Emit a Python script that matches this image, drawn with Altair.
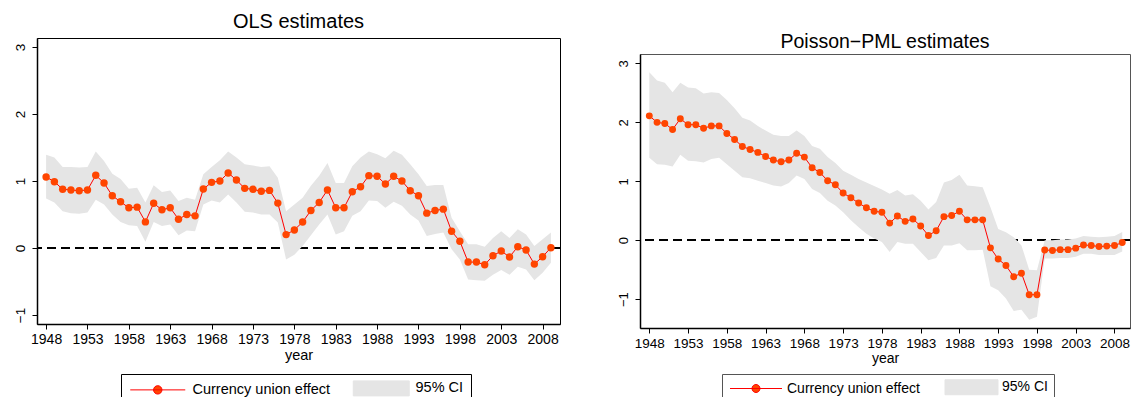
import altair as alt
import pandas as pd

years = list(range(1948, 2010))

ols_est = [1.06, 0.99, 0.876, 0.866, 0.855, 0.866, 1.085, 0.97, 0.78, 0.69,
           0.60, 0.61, 0.39, 0.667, 0.57, 0.60, 0.43, 0.50, 0.48, 0.88,
           0.98, 1.00, 1.12, 1.015, 0.89, 0.876, 0.846, 0.86, 0.67, 0.20,
           0.27, 0.388, 0.56, 0.68, 0.866, 0.60, 0.60, 0.84, 0.913, 1.08,
           1.07, 0.955, 1.07, 1.00, 0.855, 0.78, 0.52, 0.56, 0.58, 0.25,
           0.10, -0.21, -0.21, -0.25, -0.115, -0.045, -0.134, 0.02, -0.03, -0.24,
           -0.13, 0.005]
ols_hi = [1.39, 1.35, 1.21, 1.21, 1.20, 1.21, 1.44, 1.30, 1.11, 1.03,
          0.885, 0.90, 0.68, 0.935, 0.836, 0.86, 0.70, 0.75, 0.72, 1.10,
          1.21, 1.31, 1.44, 1.35, 1.25, 1.23, 1.21, 1.22, 1.05, 0.55,
          0.65, 0.75, 0.93, 1.08, 1.27, 0.97, 0.97, 1.22, 1.35, 1.44,
          1.40, 1.34, 1.45, 1.39, 1.25, 1.10, 0.925, 0.94, 0.94, 0.45,
          0.25, 0.055, 0.055, 0.02, 0.15, 0.25, 0.15, 0.28, 0.20, 0.03,
          0.13, 0.23]
ols_lo = [0.74, 0.68, 0.55, 0.52, 0.51, 0.53, 0.72, 0.65, 0.50, 0.39,
          0.34, 0.33, 0.095, 0.39, 0.33, 0.35, 0.19, 0.26, 0.25, 0.65,
          0.71, 0.68, 0.80, 0.68, 0.54, 0.53, 0.50, 0.50, 0.38, -0.17,
          -0.10, 0.03, 0.19, 0.35, 0.50, 0.20, 0.25, 0.48, 0.55, 0.71,
          0.70, 0.60, 0.69, 0.63, 0.50, 0.41, 0.18, 0.21, 0.23, -0.02,
          -0.17, -0.47, -0.48, -0.49, -0.40, -0.33, -0.40, -0.28, -0.32, -0.48,
          -0.37, -0.22]

ppml_est = [2.11, 2.00, 1.98, 1.88, 2.06, 1.96, 1.96, 1.90, 1.94, 1.94,
            1.81, 1.71, 1.59, 1.54, 1.49, 1.42, 1.36, 1.33, 1.36, 1.475,
            1.41, 1.23, 1.15, 1.01, 0.94, 0.80, 0.72, 0.63, 0.55, 0.49,
            0.475, 0.29, 0.41, 0.32, 0.36, 0.24, 0.08, 0.16, 0.40, 0.42,
            0.49, 0.345, 0.345, 0.345, -0.13, -0.32, -0.43, -0.62, -0.56, -0.925,
            -0.925, -0.165, -0.175, -0.16, -0.16, -0.135, -0.08, -0.09, -0.107, -0.10,
            -0.09, -0.04]
ppml_hi = [2.85, 2.71, 2.67, 2.51, 2.67, 2.59, 2.58, 2.49, 2.51, 2.50,
           2.38, 2.24, 2.08, 2.03, 1.94, 1.86, 1.79, 1.77, 1.77, 1.86,
           1.77, 1.60, 1.55, 1.41, 1.31, 1.18, 1.11, 1.04, 0.98, 0.92,
           0.86, 0.79, 0.85, 0.76, 0.78, 0.67, 0.52, 0.65, 0.98, 1.02,
           1.11, 0.93, 0.915, 0.90, 0.56, 0.19, 0.135, 0.05, -0.09, -0.50,
           -0.51, 0.00, 0.00, 0.01, 0.01, 0.03, 0.07, 0.06, 0.05, 0.06,
           0.07, 0.14]
ppml_lo = [1.40, 1.29, 1.28, 1.25, 1.45, 1.35, 1.34, 1.32, 1.38, 1.40,
           1.29, 1.18, 1.07, 1.05, 1.01, 0.97, 0.93, 0.91, 0.97, 1.10,
           1.04, 0.87, 0.80, 0.67, 0.59, 0.475, 0.34, 0.22, 0.11, 0.03,
           -0.03, -0.20, -0.03, -0.06, -0.06, -0.20, -0.34, -0.30, -0.09, -0.09,
           -0.05, -0.17, -0.17, -0.16, -0.78, -0.85, -0.99, -1.20, -1.18, -1.35,
           -1.30, -0.31, -0.31, -0.30, -0.30, -0.28, -0.23, -0.23, -0.25, -0.25,
           -0.25, -0.19]

x_ticks = list(range(1948, 2009, 5))
y_ticks = [-1, 0, 1, 2, 3]
series = ["Currency union effect", "95% CI"]
titles = ["OLS estimates", "Poisson\u2212PML estimates"]

FONT = "Liberation Sans"
RED = "#FF0000"
ORANGE = "#FF4500"
GRAY = "#E5E5E5"
INDEP = dict(shape="independent", fill="independent", stroke="independent")


def panel(title, est, lo, hi, width, height, xdom, ydom, fs_tick, fs_title,
          fs_legend, frame_color, dot_size, legend_x, legend_y, line_len,
          swatch_len, swatch_h, dot_r, label_offset, col_pad, leg_pad,
          title_offset):
    df = pd.DataFrame({"year": years, "est": est, "lo": lo, "hi": hi,
                       "series": series[0]})
    h = 5.0
    cx = (line_len / 2 - h) / h
    rr = dot_r / h
    xe = (line_len - h) / h
    line_path = (f"M-1,0L{xe:.3f},0M{cx + rr:.3f},0A{rr:.3f},{rr:.3f},0,1,1,"
                 f"{cx - rr:.3f},0A{rr:.3f},{rr:.3f},0,1,1,{cx + rr:.3f},0Z")
    sw = (swatch_len - h) / h
    sh = swatch_h / 2 / h
    rect_path = f"M-1,{-sh:.3f}L{sw:.3f},{-sh:.3f}L{sw:.3f},{sh:.3f}L-1,{sh:.3f}Z"

    def legend():
        return alt.Legend(
            title=None, orient="none", legendX=legend_x, legendY=legend_y,
            direction="horizontal", symbolSize=100, labelOffset=label_offset,
            columnPadding=col_pad, padding=leg_pad, strokeColor=frame_color,
            labelFont=FONT, labelFontSize=fs_legend, labelColor="#000",
            labelLimit=400, symbolOpacity=1, symbolStrokeWidth=1)

    xenc = alt.X("year:Q", scale=alt.Scale(domain=xdom, nice=False, zero=False),
                 axis=alt.Axis(values=x_ticks, format="d", title="year",
                               titleFont=FONT, titleFontSize=fs_tick + 0.5,
                               titleFontWeight="normal", titleColor="#000",
                               titlePadding=2, labelFont=FONT,
                               labelFontSize=fs_tick, labelColor="#000",
                               labelPadding=3, labelFlush=False,
                               labelOverlap=False, tickSize=5,
                               tickColor="#000", domainColor="#000",
                               domainWidth=1.5, grid=False))
    yscale = alt.Scale(domain=ydom, nice=False, zero=False)
    yaxis = alt.Axis(values=y_ticks, title=None, labelAngle=270,
                     labelAlign="center", labelBaseline="alphabetic",
                     labelPadding=8, labelFont=FONT, labelFontSize=fs_tick - 0.5,
                     labelColor="#000", labelOverlap=False, tickSize=5,
                     tickColor="#000", domainColor="#000", domainWidth=1.5,
                     grid=False)
    base = alt.Chart(df)
    zero = base.mark_rule(color="#000", strokeWidth=1, strokeDash=[9, 5]).encode(
        y=alt.datum(0, scale=yscale, axis=yaxis))
    band = base.mark_area(opacity=1, color=GRAY).encode(
        x=xenc, y=alt.Y("lo:Q", scale=yscale, axis=yaxis), y2="hi:Q")
    line = base.mark_line(strokeWidth=1, color=RED).encode(
        x=xenc, y=alt.Y("est:Q", scale=yscale, axis=yaxis))
    pts = base.mark_circle(size=dot_size, color=ORANGE, opacity=1).encode(
        x=xenc, y=alt.Y("est:Q", scale=yscale, axis=yaxis))
    # legend-only layer: no rows are drawn, the legend comes from its scales
    key = base.transform_filter("false").mark_point(
        filled=True, opacity=0, strokeWidth=1).encode(
        x=xenc, y=alt.Y("est:Q", scale=yscale, axis=yaxis),
        shape=alt.Shape("series:N", scale=alt.Scale(domain=series,
                        range=[line_path, rect_path]), legend=legend()),
        fill=alt.Fill("series:N", scale=alt.Scale(domain=series,
                      range=[ORANGE, GRAY]), legend=legend()),
        stroke=alt.Stroke("series:N", scale=alt.Scale(domain=series,
                          range=[RED, GRAY]), legend=legend()))
    return alt.layer(zero, band, line, pts, key).properties(
        width=width, height=height,
        title=alt.TitleParams(title, font=FONT, fontSize=fs_title,
                              fontWeight="normal", color="#000",
                              anchor="middle", frame="group",
                              baseline="alphabetic", offset=title_offset),
        view=alt.ViewBackground(stroke=frame_color, strokeWidth=1))


def spacer(hgt):
    return alt.Chart(pd.DataFrame({"v": [0]})).mark_point(
        opacity=0, size=0).encode(
        x=alt.value(0), y=alt.value(0)).properties(
        width=1, height=hgt, view=alt.ViewBackground(strokeOpacity=0))


left = panel(titles[0], ols_est, ols_lo, ols_hi, 523, 286,
             [1946.9, 2010.1], [-1.134, 3.134], 14, 20, 14.5, "#000", 55,
             84, 336, 55, 56, 15, 4.2, 50, 20, 7, -10)
right = panel(titles[1], ppml_est, ppml_lo, ppml_hi, 490, 274,
              [1946.8, 2010.0], [-1.49, 3.16], 13.5, 19.5, 14, "#555", 48,
              82, 320, 52, 53, 15, 4.0, 45, 23, 6, -13)

col_left = alt.vconcat(spacer(1), left, spacing=0).resolve_scale(
    **INDEP).resolve_legend(**INDEP)
col_right = alt.vconcat(spacer(21), right, spacing=0).resolve_scale(
    **INDEP).resolve_legend(**INDEP)

chart = alt.hconcat(col_left, col_right, spacing=55).properties(
    padding={"left": 4, "top": 2, "right": 0, "bottom": 0}
).resolve_scale(**INDEP).resolve_legend(**INDEP)

chart.save("out.html", embed_options={"renderer": "svg", "actions": False})
